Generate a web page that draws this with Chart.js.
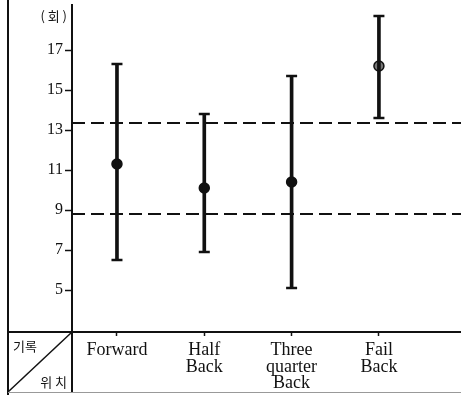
<!DOCTYPE html>
<html>
<head>
<meta charset="utf-8">
<script src="https://cdn.jsdelivr.net/npm/chart.js@4.4.1/dist/chart.umd.min.js"></script>
<style>
    html, body { margin: 0; padding: 0; background: #fff; }
    #wrap { width: 461px; height: 395px; }
</style>
</head>
<body>
<div id="wrap"><canvas id="chart" width="461" height="395"></canvas></div>
<script>
// positions along the x axis
const categories = [['Forward'], ['Half', 'Back'], ['Three', 'quarter', 'Back'], ['Fail', 'Back']];
const means = [11.3, 10.1, 10.4, 16.2];
const lows = [6.5, 6.9, 5.1, 13.6];
const highs = [16.3, 13.8, 15.7, 18.7];
const yTicks = [5, 7, 9, 11, 13, 15, 17];
const upperLine = 13.35;
const lowerLine = 8.8;

const xMin = 0.485;
const xMax = 4.94;
const ink = '#111';

const xs = categories.map((_, i) => i + 1);

// the little table under the axis: frame, diagonal and the two header words
const tablePlugin = {
    id: 'table',
    afterDraw(chart) {
        const ctx = chart.ctx;
        const area = chart.chartArea;
        const left = 8;
        const bottom = 392;
        ctx.save();
        ctx.strokeStyle = ink;
        ctx.lineWidth = 2;
        ctx.beginPath();
        ctx.moveTo(left, 0);
        ctx.lineTo(left, chart.height);
        ctx.moveTo(left, area.bottom);
        ctx.lineTo(area.left, area.bottom);
        ctx.moveTo(area.left, area.top);
        ctx.lineTo(area.left, bottom);
        ctx.stroke();

        ctx.lineWidth = 1.5;
        ctx.beginPath();
        ctx.moveTo(left, bottom);
        ctx.lineTo(area.left, area.bottom);
        ctx.stroke();

        ctx.strokeStyle = '#999';
        ctx.lineWidth = 1;
        ctx.beginPath();
        ctx.moveTo(left, bottom + 0.5);
        ctx.lineTo(chart.width, bottom + 0.5);
        ctx.stroke();

        ctx.fillStyle = ink;
        ctx.font = '13px "Noto Sans CJK KR"';
        ctx.textBaseline = 'middle';
        ctx.textAlign = 'left';
        ctx.fillText('기록', 13, 346);
        ctx.textAlign = 'right';
        ctx.fillText('위 치', 67, 382);
        ctx.fillText('( 회 )', 67, 16);
        ctx.restore();
    }
};

const flat = (y) => [{ x: xMin, y: y }, { x: xMax, y: y }];

new Chart(document.getElementById('chart'), {
    data: {
        datasets: [
            {
                type: 'line',
                data: flat(upperLine),
                borderColor: ink,
                borderWidth: 2,
                borderDash: [13, 6],
                pointRadius: 0
            },
            {
                type: 'line',
                data: flat(lowerLine),
                borderColor: ink,
                borderWidth: 1.8,
                borderDash: [13, 6],
                pointRadius: 0
            },
            {
                type: 'bar',
                data: xs.map((x, i) => ({ x: x, y: [lows[i], highs[i]] })),
                backgroundColor: ink,
                barThickness: 3,
                borderWidth: 0
            },
            {
                type: 'scatter',
                data: xs.map((x, i) => ({ x: x, y: highs[i] })).concat(xs.map((x, i) => ({ x: x, y: lows[i] }))),
                pointStyle: 'line',
                pointRadius: 5.5,
                borderColor: ink,
                borderWidth: 2.5
            },
            {
                type: 'scatter',
                data: xs.map((x, i) => ({ x: x, y: means[i] })),
                pointRadius: 5,
                pointBackgroundColor: [ink, ink, ink, '#777'],
                borderColor: ink,
                borderWidth: 1.5
            }
        ]
    },
    options: {
        responsive: false,
        animation: false,
        layout: { autoPadding: false, padding: { top: 5, left: 0, right: 0, bottom: 0 } },
        plugins: {
            legend: { display: false },
            tooltip: { enabled: false }
        },
        scales: {
            x: {
                type: 'linear',
                min: xMin,
                max: xMax,
                offset: false,
                afterBuildTicks: (axis) => { axis.ticks = xs.map(v => ({ value: v })); },
                afterFit: (axis) => {
                    axis.height = 63;
                    axis.paddingLeft = 0;
                    axis.paddingRight = 0;
                },
                grid: {
                    offset: false,
                    drawOnChartArea: false,
                    tickLength: 4,
                    tickColor: ink,
                    tickWidth: 1.5
                },
                border: { color: ink, width: 2 },
                ticks: {
                    color: ink,
                    padding: 6,
                    maxRotation: 0,
                    autoSkip: false,
                    font: { family: '"Liberation Serif", serif', size: 18, lineHeight: 0.92 },
                    callback: (v) => categories[v - 1]
                }
            },
            y: {
                type: 'linear',
                min: 2.9,
                max: 19.25,
                afterBuildTicks: (axis) => { axis.ticks = yTicks.map(v => ({ value: v })); },
                afterFit: (axis) => {
                    axis.width = 72;
                    axis.paddingTop = 0;
                    axis.paddingBottom = 0;
                },
                grid: {
                    drawOnChartArea: false,
                    tickLength: 7,
                    tickColor: ink,
                    tickWidth: 1.5
                },
                border: { color: ink, width: 2 },
                ticks: {
                    color: ink,
                    padding: 2,
                    font: { family: '"Liberation Serif", serif', size: 16 }
                }
            }
        }
    },
    plugins: [tablePlugin]
});
</script>
</body>
</html>
